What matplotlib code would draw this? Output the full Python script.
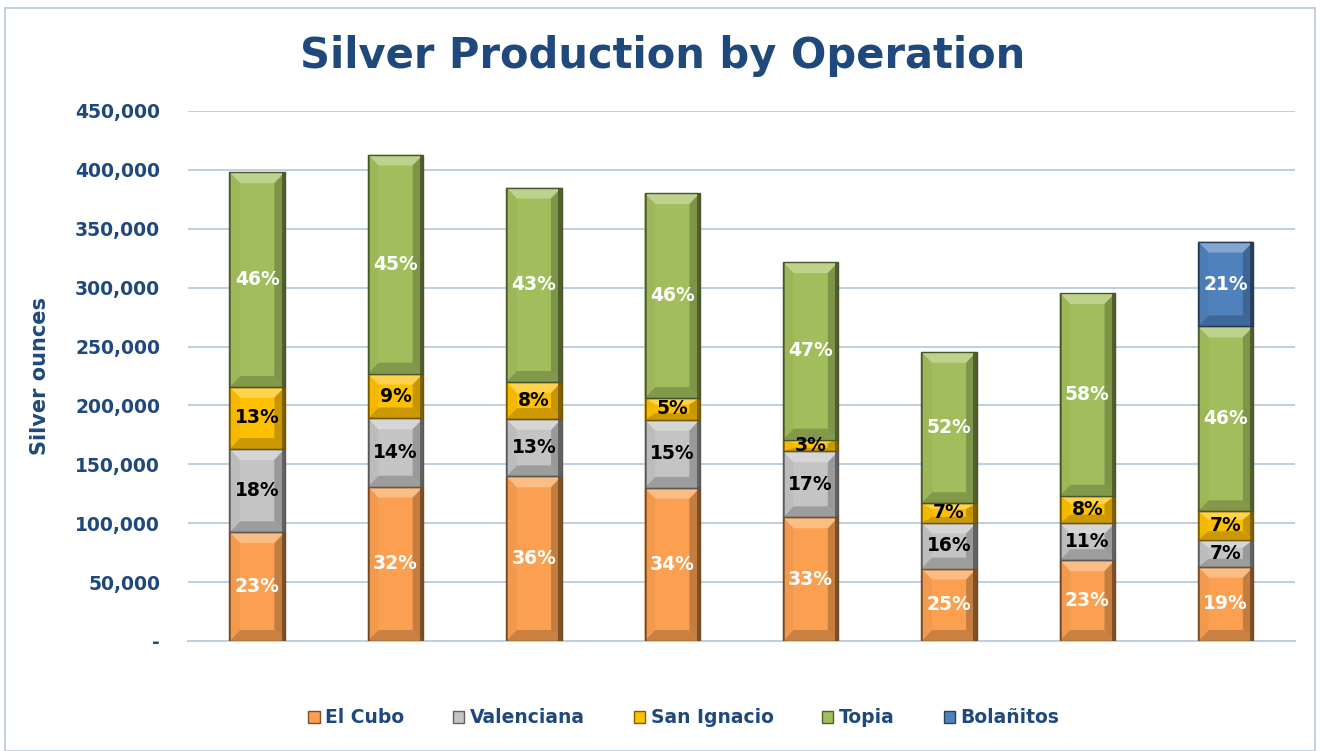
"""Silver production by operation - stacked bars with bevel look"""

import numpy as np
from matplotlib import pyplot as plt
from matplotlib.patches import Polygon, Rectangle, Patch
from matplotlib.colors import to_rgb

plt.rcParams['font.family'] = ['DejaVu Sans']

NAVY = '#1F497D'
GRID = '#BCCFE6'

# data (silver ounces per period)
periods = ['P1', 'P2', 'P3', 'P4', 'P5', 'P6', 'P7', 'P8']
el_cubo = [92300, 131000, 139800, 130000, 105000, 61500, 68600, 62900]
valenciana = [70800, 58000, 48700, 57900, 56000, 39000, 31700, 23200]
san_ignacio = [52600, 38000, 31400, 18400, 10000, 16500, 23100, 24000]
topia = [182300, 186000, 165100, 174000, 150700, 128500, 172000, 157000]
bolanitos = [0, 0, 0, 0, 0, 0, 0, 72000]

series = [
    ('El Cubo', el_cubo, '#FBA050', 'white'),
    ('Valenciana', valenciana, '#C4C4C4', 'black'),
    ('San Ignacio', san_ignacio, '#FFC000', 'black'),
    ('Topia', topia, '#A2BE5C', 'white'),
    ('Bolañitos', bolanitos, '#4F81BD', 'white'),
]


def shade(c, f):
    r, g, b = to_rgb(c)
    if f >= 0:
        return (r + (1 - r) * f, g + (1 - g) * f, b + (1 - b) * f)
    f = 1 + f
    return (r * f, g * f, b * f)


def bevel(ax, rect, color):
    x0, y0 = rect.get_x(), rect.get_y()
    w, h = rect.get_width(), rect.get_height()
    if h <= 0:
        return
    x1, y1 = x0 + w, y0 + h
    bx = w * 0.19
    by = min(9300, h * 0.3)
    faces = [
        ([(x0, y1), (x1, y1), (x1 - bx, y1 - by), (x0 + bx, y1 - by)], shade(color, 0.3)),
        ([(x0, y0), (x1, y0), (x1 - bx, y0 + by), (x0 + bx, y0 + by)], shade(color, -0.2)),
        ([(x0, y0), (x0 + bx, y0 + by), (x0 + bx, y1 - by), (x0, y1)], shade(color, -0.04)),
        ([(x1, y0), (x1 - bx, y0 + by), (x1 - bx, y1 - by), (x1, y1)], shade(color, -0.22)),
    ]
    for pts, fc in faces:
        ax.add_patch(Polygon(pts, closed=True, facecolor=fc, edgecolor='none', zorder=3))
    # thin dark shading along the outer sides
    ax.add_patch(Rectangle((x1 - w * 0.06, y0), w * 0.06, h, facecolor=shade(color, -0.5),
                           edgecolor='none', zorder=3))
    ax.add_patch(Rectangle((x0, y0), w * 0.035, h, facecolor=shade(color, -0.35),
                           edgecolor='none', zorder=3))
    ax.add_patch(Rectangle((x0, y0), w, h, fill=False, edgecolor=shade(color, -0.55),
                           linewidth=1.0, zorder=4))


fig = plt.figure(figsize=(13.2, 7.51), dpi=100)
ax = fig.add_axes([0.1424, 0.1465, 0.8386, 0.7057])

x = np.arange(len(periods))
totals = np.sum([s[1] for s in series], axis=0)
bottom = np.zeros(len(periods))
handles = []
for name, vals, color, tcolor in series:
    vals = np.array(vals, dtype=float)
    bars = ax.bar(x, vals, 0.4, bottom=bottom, color=color, zorder=2)
    for rect, v, t in zip(bars, vals, totals):
        if v <= 0:
            continue
        bevel(ax, rect, color)
        ax.text(rect.get_x() + rect.get_width() / 2, rect.get_y() + v / 2,
                f'{v / t * 100:.0f}%', ha='center', va='center',
                color=tcolor, fontsize=13.5, fontweight='bold', zorder=5)
    bottom += vals
    handles.append(Patch(facecolor=color, edgecolor=shade(color, -0.5), label=name))

ax.set_xlim(-0.5, len(periods) - 0.5)
ax.set_ylim(0, 450000)
ax.set_yticks(np.arange(0, 450001, 50000))
ax.set_yticklabels(['-'] + [f'{v:,}' for v in range(50000, 450001, 50000)])
ax.set_xticks([])
ax.tick_params(axis='y', length=0, pad=20, labelsize=13.5, labelcolor=NAVY)
for lab in ax.get_yticklabels():
    lab.set_fontweight('bold')
ax.yaxis.grid(True, color=GRID, linewidth=1.4, zorder=0)
ax.set_axisbelow(True)
for side in ['top', 'right', 'left']:
    ax.spines[side].set_visible(False)
ax.spines['bottom'].set_color(GRID)
ax.spines['bottom'].set_linewidth(1.4)

ax.set_ylabel('Silver ounces', fontsize=15, fontweight='bold', color=NAVY, labelpad=18)
fig.text(0.502, 0.925, 'Silver Production by Operation', ha='center', va='center',
         fontsize=30, fontweight='bold', color=NAVY)

fig.legend(handles=handles, loc='center', bbox_to_anchor=(0.518, 0.044), ncol=5,
           frameon=False, handlelength=0.6, handleheight=0.6, columnspacing=2.6,
           handletextpad=0.3, prop={'weight': 'bold', 'size': 13.5}, labelcolor=NAVY)

fig.patches.append(Rectangle((0.004, 0.0), 0.992, 0.989, transform=fig.transFigure,
                             fill=False, edgecolor='#C3D1E3', linewidth=1.5))

fig.savefig('out.png', dpi=100)
